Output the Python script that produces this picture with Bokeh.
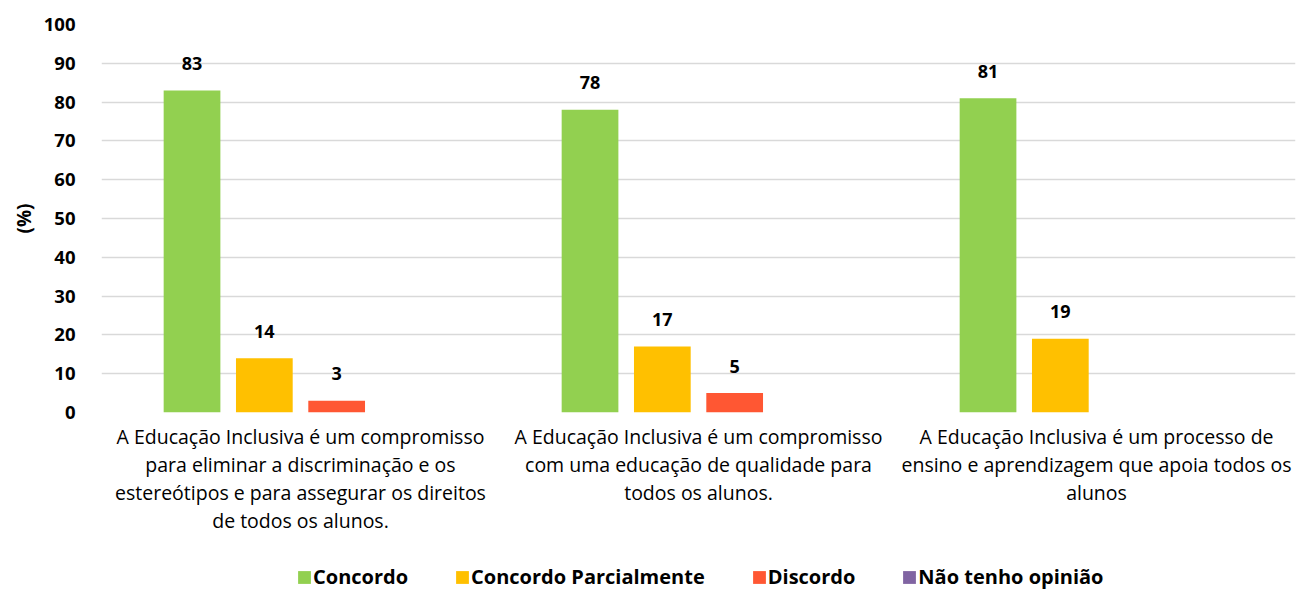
from bokeh.plotting import figure
from bokeh.layouts import column
from bokeh.models import ColumnDataSource, Range1d, FixedTicker, Legend, LegendItem, Grid
from bokeh.embed import file_html
from bokeh.resources import INLINE
from bokeh.core.properties import value

# ---- data ----
categories = [
    "A Educação Inclusiva é um compromisso\npara eliminar a discriminação e os\nestereótipos e para assegurar os direitos\nde todos os alunos.",
    "A Educação Inclusiva é um compromisso\ncom uma educação de qualidade para\ntodos os alunos.",
    "A Educação Inclusiva é um processo de\nensino e aprendizagem que apoia todos os\nalunos",
]
series_names = ["Concordo", "Concordo Parcialmente", "Discordo", "Não tenho opinião"]
concordo = [83, 78, 81]
concordo_parcialmente = [14, 17, 19]
discordo = [3, 5, 0]
nao_tenho_opiniao = [0, 0, 0]
y_ticks = [0, 10, 20, 30, 40, 50, 60, 70, 80, 90, 100]
y_axis_title = "(%)"

series_values = [concordo, concordo_parcialmente, discordo, nao_tenho_opiniao]
colors = ["#92D050", "#FFC000", "#FF5733", "#8064A2"]

# ---- layout ----
cat_x = [i + 0.5 for i in range(len(categories))]
step = 0.1817
bar_w = 0.1425
offsets = [(k - 1.5) * step for k in range(len(series_names))]

FONT = "Open Sans"

p = figure(width=1296, height=547,
           x_range=Range1d(0, 3), y_range=Range1d(0, 100),
           output_backend="svg", toolbar_location=None,
           min_border_top=24, min_border_left=101, min_border_right=1,
           min_border_bottom=135)
p.outline_line_color = None
p.background_fill_color = "white"

lab_x, lab_y, lab_t = [], [], []
for k, (name, vals) in enumerate(zip(series_names, series_values)):
    xs = [c + offsets[k] for c in cat_x]
    src = ColumnDataSource(dict(x=xs, top=vals))
    p.vbar(x="x", top="top", width=bar_w, source=src,
           fill_color=colors[k], line_color=None)
    for xv, v in zip(xs, vals):
        if v > 0:
            lab_x.append(xv)
            lab_y.append(v)
            lab_t.append(str(v))

lab_src = ColumnDataSource(dict(x=lab_x, y=lab_y, t=lab_t))
p.text(x="x", y="y", text="t", source=lab_src,
       text_font=value(FONT), text_font_size="18px", text_font_style="bold",
       text_align="center", text_baseline="alphabetic", y_offset=-27,
       text_color="#000000")

# grid
p.xgrid.grid_line_color = None
p.ygrid.ticker = FixedTicker(ticks=y_ticks)
p.ygrid.grid_line_color = "#D9D9D9"
p.ygrid.grid_line_width = 1.5

# y axis
ya = p.yaxis[0]
ya.ticker = FixedTicker(ticks=y_ticks)
ya.axis_line_color = None
ya.major_tick_line_color = None
ya.minor_tick_line_color = None
ya.major_label_text_font = FONT
ya.major_label_text_font_size = "18.5px"
ya.major_label_text_font_style = "bold"
ya.major_label_text_color = "#000000"
ya.major_label_standoff = 20
ya.axis_label = y_axis_title
ya.axis_label_text_font = FONT
ya.axis_label_text_font_size = "19px"
ya.axis_label_text_font_style = "bold"
ya.axis_label_text_color = "#000000"
ya.axis_label_standoff = 4

# x axis
xa = p.xaxis[0]
xa.ticker = FixedTicker(ticks=cat_x)
xa.major_label_overrides = {c: lab for c, lab in zip(cat_x, categories)}
xa.axis_line_color = None
xa.major_tick_line_color = None
xa.minor_tick_line_color = None
xa.major_label_text_font = FONT
xa.major_label_text_font_size = "19.5px"
xa.major_label_text_color = "#000000"
xa.major_label_text_line_height = 1.04
xa.major_label_standoff = 4

# ---- legend strip (own figure, same series) ----
pl = figure(width=1296, height=45, x_range=Range1d(0, 3), y_range=Range1d(0, 1),
            output_backend="svg", toolbar_location=None,
            x_axis_location=None, y_axis_location=None,
            min_border_top=0, min_border_left=101, min_border_right=1, min_border_bottom=0)
pl.outline_line_color = None
pl.border_fill_color = "white"
pl.background_fill_color = "white"
for g in list(pl.center) + list(pl.renderers):
    if isinstance(g, Grid):
        g.visible = False
        g.grid_line_color = None
leg_renderers = []
for k, vals in enumerate(series_values):
    xs = [c + offsets[k] for c in cat_x]
    leg_renderers.append(pl.vbar(x=xs, top=vals, width=bar_w,
                                 fill_color=colors[k], line_color=None,
                                 visible=False))

legend = Legend(items=[LegendItem(label=n, renderers=[r]) for n, r in zip(series_names, leg_renderers)],
                orientation="horizontal", location=(195, 2),
                glyph_width=16, glyph_height=16, label_standoff=1, spacing=46,
                padding=0, margin=0, border_line_color=None,
                background_fill_alpha=0,
                inactive_fill_alpha=0,
                label_text_font=FONT, label_text_font_size="20px",
                label_text_font_style="bold", label_text_color="#000000",
                label_height=20)
pl.add_layout(legend, "center")

layout = column(p, pl, spacing=0)
open("out.html", "w").write(file_html(layout, INLINE))
